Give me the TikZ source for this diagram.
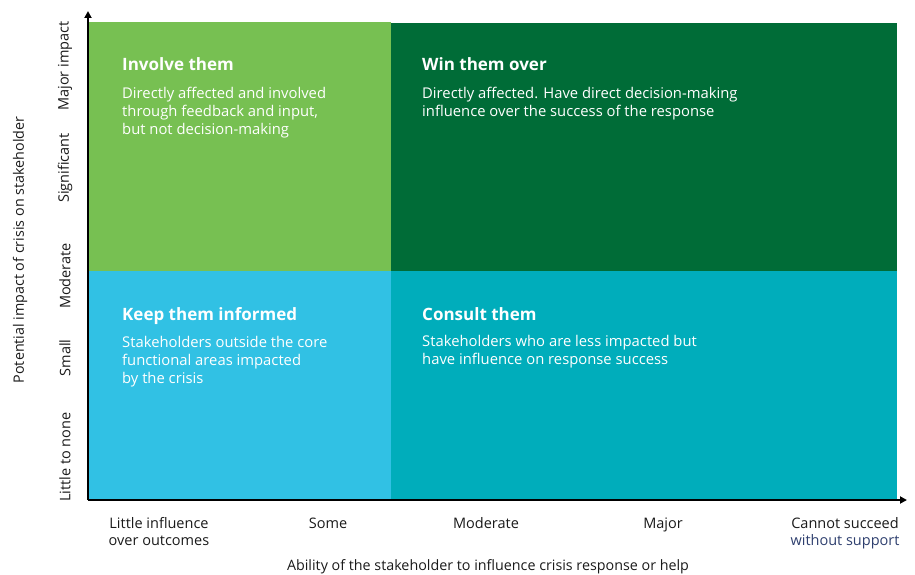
\documentclass[tikz,border=0pt]{standalone}
\usepackage{fontspec}
\setmainfont{Open Sans}
\usetikzlibrary{arrows.meta}
\definecolor{lgreen}{HTML}{77C052}
\definecolor{dgreen}{HTML}{006C37}
\definecolor{lblue}{HTML}{31C1E4}
\definecolor{teal2}{HTML}{00ADBB}
\definecolor{navy}{HTML}{2E3F6E}
\definecolor{txt}{HTML}{1A1A1A}
\begin{document}
\begin{tikzpicture}[x=1pt,y=-1pt,
  quad/.style={draw=none,inner sep=0pt,anchor=north west},
  head/.style={anchor=base west,inner sep=0pt,text=white,font=\fontsize{17}{20}\selectfont\bfseries},
  body/.style={anchor=north west,inner sep=0pt,text=white,align=left,font=\fontsize{14.8}{18}\selectfont},
  tick/.style={inner sep=0pt,text=txt,font=\fontsize{14.5}{17}\selectfont,align=center},
  xtick/.style={tick,anchor=base},
  axtitle/.style={inner sep=0pt,text=txt,font=\fontsize{14.3}{17}\selectfont},
  axis/.style={line width=2pt,black,-{Triangle[length=7pt,width=7pt]}}]
\useasboundingbox (0,0) rectangle (915,575);
% quadrants
\node[quad,fill=lgreen,minimum width=302pt,minimum height=249pt] (inv) at (89,22) {};
\node[quad,fill=dgreen,minimum width=506pt,minimum height=248pt] (win) at (391,23) {};
\node[quad,fill=lblue,minimum width=302pt,minimum height=228pt] (keep) at (89,271) {};
\node[quad,fill=teal2,minimum width=506pt,minimum height=228pt] (cons) at (391,271) {};
% quadrant texts
\node[head] (invh) at (122,71) {Involve them};
\node[body] (invb) at (122,87) {Directly affected and involved\\through feedback and input,\\but not decision-making};
\node[head] (winh) at (422,71) {Win them over};
\node[body] (winb) at (422,87) {Directly affected. Have direct decision-making\\influence over the success of the response};
\node[head] (keeph) at (122,320) {Keep them informed};
\node[body] (keepb) at (122,336) {Stakeholders outside the core\\functional areas impacted\\by the crisis};
\node[head] (consh) at (422,320) {Consult them};
\node[body] (consb) at (422,335) {Stakeholders who are less impacted but\\have influence on response success};
% axes
\coordinate (O) at (88,500);
\coordinate (ytop) at (88,11);
\coordinate (xend) at (907,500);
\draw[axis] (O) -- (ytop);
\draw[axis] (O) -- (xend);
% y ticks
\node[tick,rotate=90] (y1) at (65,66) {Major impact};
\node[tick,rotate=90] (y2) at (65,168) {Significant};
\node[tick,rotate=90] (y3) at (65,276) {Moderate};
\node[tick,rotate=90] (y4) at (65,358) {Small};
\node[tick,rotate=90] (y5) at (65,457) {Little to none};
\node[axtitle,rotate=90] (yt) at (20,250) {Potential impact of crisis on stakeholder};
% x ticks
\node[xtick] (x1) at (159,545) {Little influence\\over outcomes};
\node[xtick] (x2) at (328,528) {Some};
\node[xtick] (x3) at (486,528) {Moderate};
\node[xtick] (x4) at (663,528) {Major};
\node[xtick] (x5) at (845,545) {Cannot succeed\\\textcolor{navy}{without support}};
\node[axtitle] (xt) at (488,567) {Ability of the stakeholder to influence crisis response or help};
\end{tikzpicture}
\end{document}
